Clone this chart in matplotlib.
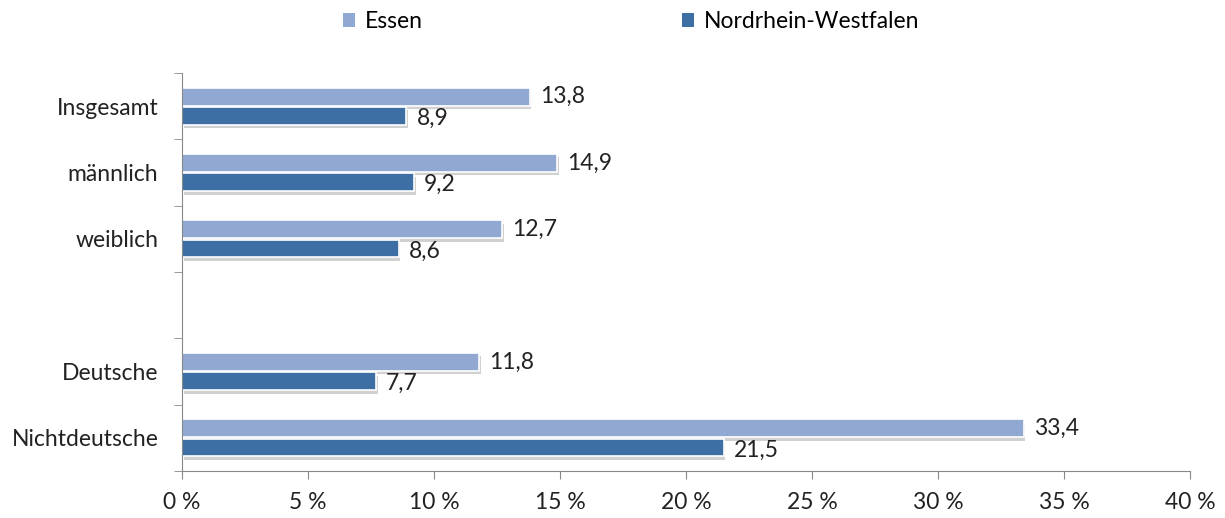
import matplotlib.pyplot as plt
import matplotlib.patheffects as pe
import numpy as np

plt.rcParams['font.family'] = ['Lato', 'DejaVu Sans']

categories = ['Insgesamt', 'männlich', 'weiblich', '', 'Deutsche', 'Nichtdeutsche']
essen = [13.8, 14.9, 12.7, None, 11.8, 33.4]
nrw = [8.9, 9.2, 8.6, None, 7.7, 21.5]
series_names = ['Essen', 'Nordrhein-Westfalen']
colors = ['#91a9d2', '#3d6fa5']

fig = plt.figure(figsize=(12.25, 5.18), dpi=100)
ax = fig.add_axes([0.1486, 0.0907, 0.8228, 0.7683])

h = 0.27
fs = 16.5
shadow = [pe.SimplePatchShadow(offset=(1.2, -2.5), shadow_rgbFace='#999999', alpha=0.45), pe.Normal()]
pos = np.arange(len(categories))
for i, (e, n) in enumerate(zip(essen, nrw)):
    if e is None:
        continue
    b1 = ax.barh(pos[i] - h / 2 - 0.01, e, height=h, color=colors[0], edgecolor='white', linewidth=1.2)
    b2 = ax.barh(pos[i] + h / 2 + 0.01, n, height=h, color=colors[1], edgecolor='white', linewidth=1.2)
    for b in list(b1) + list(b2):
        b.set_path_effects(shadow)
    ax.text(e + 0.4, pos[i] - h / 2 - 0.01, f'{e:.1f}'.replace('.', ','), va='center', ha='left', fontsize=fs, color='#222222')
    ax.text(n + 0.4, pos[i] + h / 2 + 0.05, f'{n:.1f}'.replace('.', ','), va='center', ha='left', fontsize=fs, color='#222222')

# legend handles
ax.barh([0], [0], color=colors[0], label=series_names[0])
ax.barh([0], [0], color=colors[1], label=series_names[1])

ax.set_xlim(0, 40)
ax.set_ylim(len(categories) - 0.5, -0.5)
ax.set_xticks(np.arange(0, 41, 5))
ax.set_xticklabels([f'{v} %' for v in range(0, 41, 5)], fontsize=fs, color='#222222')
ax.set_yticks(pos)
ax.set_yticklabels(categories, fontsize=fs, color='#222222')
ax.set_yticks(np.arange(-0.5, len(categories), 1), minor=True)
ax.tick_params(axis='y', which='major', length=0, pad=17)
ax.tick_params(axis='y', which='minor', length=6, color='#888888')
ax.tick_params(axis='x', length=6, color='#888888', pad=9)

for s in ['top', 'right']:
    ax.spines[s].set_visible(False)
ax.spines['left'].set_color('#888888')
ax.spines['bottom'].set_color('#888888')

leg = fig.legend(loc='center', bbox_to_anchor=(0.515, 0.958), ncol=2, frameon=False,
                 fontsize=fs, handlelength=0.55, handleheight=0.55, columnspacing=11.3, handletextpad=0.4)

fig.savefig('out.png', dpi=100)
